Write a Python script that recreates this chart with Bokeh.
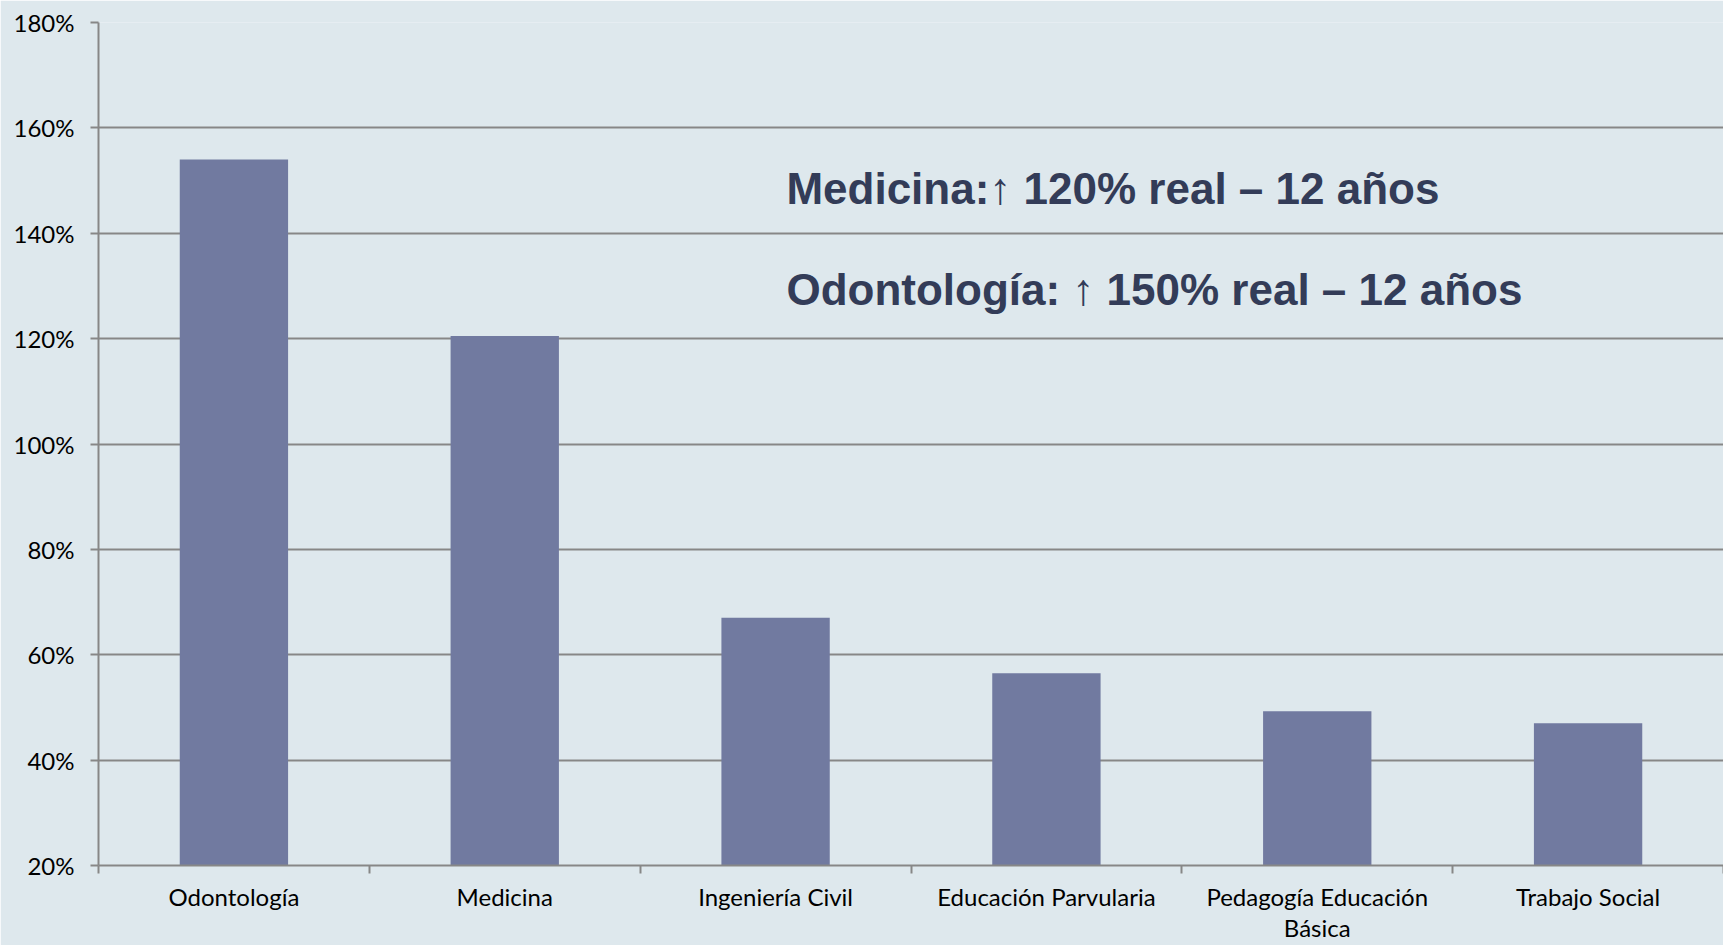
from bokeh.plotting import figure
from bokeh.models import (Range1d, FixedTicker, PrintfTickFormatter, Label,
                          ColumnDataSource, CustomJSTickFormatter)
from bokeh.embed import file_html
from bokeh.resources import INLINE

categories = ["Odontología", "Medicina", "Ingeniería Civil", "Educación Parvularia",
              "Pedagogía Educación\nBásica", "Trabajo Social"]
values = [154.0, 120.5, 67.0, 56.5, 49.3, 47.0]
y_ticks = [20, 40, 60, 80, 100, 120, 140, 160, 180]
notes = ["Medicina:↑ 120% real – 12 años", "Odontología: ↑ 150% real – 12 años"]

BG = "#dee8ed"
GRID = "#878787"
BAR = "#717aa0"
LABEL_FONT = "Lato"

n = len(categories)
centers = [i + 0.5 for i in range(n)]
bounds = list(range(n + 1))

p = figure(width=1723, height=945, x_range=Range1d(0, n),
           y_range=Range1d(y_ticks[0], y_ticks[-1]), output_backend="svg",
           toolbar_location=None, x_axis_location="below", y_axis_location="left",
           min_border_left=98, min_border_right=0, min_border_top=22, min_border_bottom=78)
p.background_fill_color = BG
p.border_fill_color = BG
p.outline_line_color = None

src = ColumnDataSource(dict(x=centers, val=values))
p.vbar(x="x", top="val", bottom=y_ticks[0], width=0.4, source=src,
       fill_color=BAR, line_color=None)

# y axis
ya = p.yaxis[0]
ya.ticker = FixedTicker(ticks=y_ticks)
ya.formatter = PrintfTickFormatter(format="%d%%")
ya.axis_line_color = GRID
ya.axis_line_width = 2
ya.major_tick_line_color = GRID
ya.major_tick_line_width = 2
ya.major_tick_out = 8
ya.major_tick_in = 0
ya.minor_tick_line_color = None
ya.major_label_text_font = LABEL_FONT
ya.major_label_text_font_size = "24px"
ya.major_label_text_color = "#000000"
ya.major_label_standoff = 16

p.xgrid.grid_line_color = None
p.ygrid.ticker = FixedTicker(ticks=y_ticks)
p.ygrid.grid_line_color = GRID
p.ygrid.grid_line_width = 2

# x axis: labels at category centres, tick marks at category boundaries
xa = p.xaxis[0]
xa.ticker = FixedTicker(ticks=centers, minor_ticks=bounds)
xa.formatter = CustomJSTickFormatter(args=dict(names=categories),
                                     code="return names[Math.floor(tick)] || '';")
xa.major_tick_line_color = None
xa.major_tick_out = 8
xa.major_tick_in = 0
xa.minor_tick_line_color = GRID
xa.minor_tick_line_width = 2
xa.minor_tick_out = 8
xa.minor_tick_in = 0
xa.axis_line_color = GRID
xa.axis_line_width = 2
xa.major_label_standoff = 8
xa.major_label_text_line_height = 1.1
xa.major_label_text_font = LABEL_FONT
xa.major_label_text_font_size = "24px"
xa.major_label_text_color = "#000000"

# annotations
for txt, y in zip(notes, [148.5, 129.3]):
    p.add_layout(Label(x=2.540, y=y, text=txt, text_font="Liberation Sans",
                       text_font_style="bold", text_font_size="44px",
                       text_color="#333c58", text_baseline="alphabetic"))

open("out.html", "w").write(file_html(p, INLINE))
